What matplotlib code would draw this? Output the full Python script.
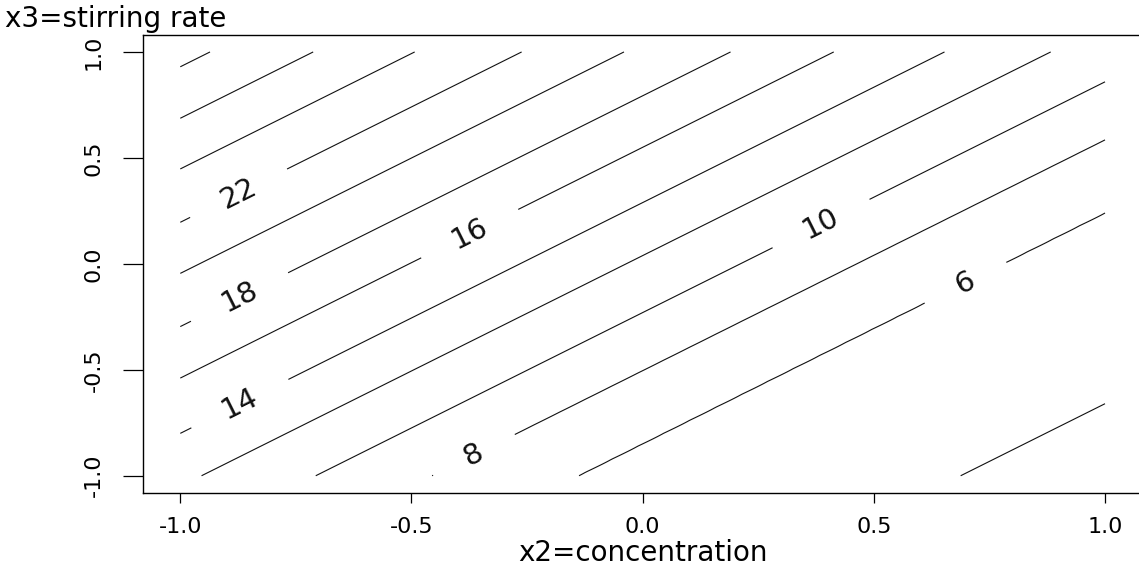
import numpy as np
import matplotlib
matplotlib.use("Agg")
import matplotlib.pyplot as plt

plt.rcParams['font.family'] = ['DejaVu Sans']

# Contour levels and where each level line crosses the left edge (x2 = -1), in x3 units
levels = [4, 6, 8, 10, 12, 14, 16, 18, 20, 22, 24, 26, 28]
level_offsets = [-2.838, -1.938, -1.593, -1.319, -1.050, -0.800, -0.539,
                 -0.296, -0.045, 0.196, 0.448, 0.687, 0.930]
line_slope = 1.089  # dx3/dx2 of the (parallel) contour lines

# Label anchors (x2, x3) (labels 22, 18, 16, 14, 10, 8, 6)
label_levels = [22, 18, 16, 14, 10, 8, 6]
label_x2 = [-0.872, -0.872, -0.378, -0.872, 0.382, -0.365, 0.699]
label_x3 = [0.325, -0.156, 0.160, -0.656, 0.207, -0.901, -0.092]

tick_vals = [-1.0, -0.5, 0.0, 0.5, 1.0]
tick_text = ["-1.0", "-0.5", "0.0", "0.5", "1.0"]

# surface built from the level positions
g = np.linspace(-1, 1, 401)
X2, X3 = np.meshgrid(g, g)
V = X3 - line_slope * (X2 + 1)
off = np.array(level_offsets)
lev = np.array(levels, dtype=float)
Z = np.interp(V, off, lev)
lo = V < off[0]
Z[lo] = lev[0] + (V[lo] - off[0]) * (lev[1] - lev[0]) / (off[1] - off[0])
hi = V > off[-1]
Z[hi] = lev[-1] + (V[hi] - off[-1]) * (lev[-1] - lev[-2]) / (off[-1] - off[-2])

W, H = 1139, 571
fig = plt.figure(figsize=(W / 100, H / 100), dpi=100)
left_px, right_px, top_px, bot_px = 143.3, 1142.0, 35.0, 492.7
ax = fig.add_axes([left_px / W, 1 - bot_px / H, (right_px - left_px) / W, (bot_px - top_px) / H])

cs = ax.contour(X2, X3, Z, levels=levels, colors='#111111', linewidths=0.8)
ax.clabel(cs, inline=True, inline_spacing=40, fmt='%d',
          fontsize=21, manual=list(zip(label_x2, label_x3)))

ax.set_xlim(-1.08, 1.08)
ax.set_ylim(-1.08, 1.08)
ax.set_xticks(tick_vals)
ax.set_xticklabels(tick_text, fontsize=16)
ax.set_yticks(tick_vals)
ax.set_yticklabels(tick_text, fontsize=16, rotation=90, va='center')
ax.tick_params(axis='x', length=7.2, width=0.9, pad=10, colors='black')
ax.tick_params(axis='y', length=14.4, width=0.9, pad=14, colors='black')
for sp in ax.spines.values():
    sp.set_linewidth(1.0)
    sp.set_color('black')

ax.set_xlabel("x2=concentration", fontsize=20)
ax.xaxis.set_label_coords(0.5, -(561 - bot_px) / (bot_px - top_px))
ax.xaxis.label.set_va('baseline')

ax.set_ylabel("x3=stirring rate", fontsize=20, rotation=0, ha='left', va='baseline')
ax.yaxis.set_label_coords((5 - left_px) / (right_px - left_px), (bot_px - 26.7) / (bot_px - top_px))

fig.savefig("out.png", dpi=100)
